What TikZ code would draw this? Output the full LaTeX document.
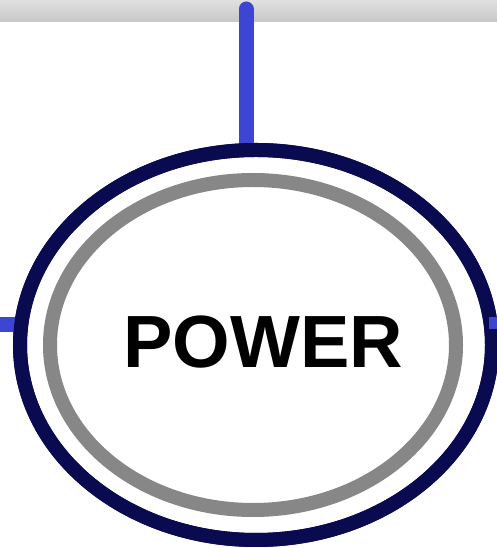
\documentclass[tikz,border=0pt]{standalone}
\usepackage{fontspec}
\setmainfont{Liberation Sans}
\usetikzlibrary{shapes.geometric}
\definecolor{navy}{HTML}{0A0A50}
\definecolor{wireblue}{HTML}{3C46D2}
\definecolor{ringgray}{HTML}{878787}
\tikzset{
  wire/.style={wireblue, line width=15pt},
  outerring/.style={ellipse, draw=navy, line width=14pt, inner sep=0pt, outer sep=0pt},
  innerring/.style={ellipse, draw=ringgray, line width=14pt, inner sep=0pt, outer sep=0pt},
  label/.style={font=\bfseries\fontsize{74}{80}\selectfont, inner sep=0pt}
}
\begin{document}
\begin{tikzpicture}[x=1pt,y=1pt]
\useasboundingbox (0,0) rectangle (497,548);
\fill[white] (0,0) rectangle (497,548);
\shade[top color=black!12, bottom color=black!22] (0,526) rectangle (497,548);
\coordinate (topend) at (246,539);
\coordinate (leftend) at (-2,223);
\coordinate (rightend) at (499,225);
\draw[wire, line cap=round] (topend) -- (246,200);
\node[outerring, fill=white, minimum width=472pt, minimum height=390pt] (outer) at (256,203) {};
\draw[wire] (leftend) -- (28,223);
\node[outerring, minimum width=472pt, minimum height=390pt] (outerring) at (256,203) {};
\draw[wire, line width=12pt] (rightend) -- (489,225);
\node[innerring, minimum width=406pt, minimum height=330pt] (inner) at (253,203) {};
\node[label] (power) at (263,206) {POWER};
\end{tikzpicture}
\end{document}
